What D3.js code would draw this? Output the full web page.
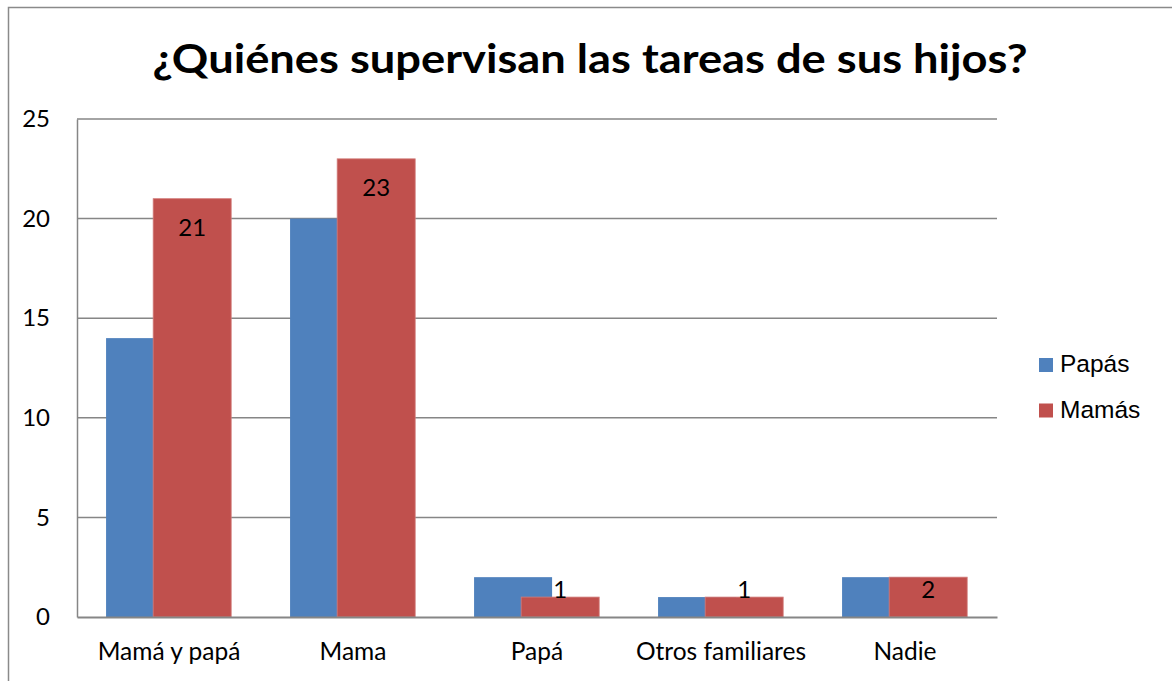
<!DOCTYPE html>
<html>
<head>
<meta charset="utf-8">
<script src="https://cdn.jsdelivr.net/npm/d3@7"></script>
<style>
  body { margin: 0; background: #fff; }
  text { font-family: Lato, "Open Sans", sans-serif; fill: #000; }
</style>
</head>
<body>
<div class="chart"></div>
<script>
var categories = ["Mamá y papá", "Mama", "Papá", "Otros familiares", "Nadie"];
var papas = [14, 20, 2, 1, 2];
var mamas = [21, 23, 1, 1, 2];
var seriesNames = ["Papás", "Mamás"];
var seriesColors = ["#4F81BD", "#C0504D"];
var yTicks = [0, 5, 10, 15, 20, 25];

var width = 1172, height = 681;
var plot = {left: 77, right: 997, top: 119, bottom: 617};

var svg = d3.select(".chart")
    .append("svg")
    .attr("width", width)
    .attr("height", height);

// chart border (runs off the right and bottom edge)
svg.append("rect")
    .attr("x", 8.5).attr("y", 7.5)
    .attr("width", width + 20).attr("height", height + 20)
    .style("fill", "none")
    .style("stroke", "#8a8a8a")
    .style("stroke-width", 1.5);

svg.append("text")
    .attr("x", 590)
    .attr("y", 73)
    .attr("text-anchor", "middle")
    .attr("textLength", 875)
    .attr("lengthAdjust", "spacingAndGlyphs")
    .style("font-size", "41px")
    .style("font-weight", "bold")
    .text("¿Quiénes supervisan las tareas de sus hijos?");

var x0 = d3.scaleBand()
    .domain(categories)
    .range([plot.left, plot.right]);

var y = d3.scaleLinear()
    .domain([0, 25])
    .range([plot.bottom, plot.top]);

// gridlines
svg.append("g")
    .selectAll("line")
    .data(yTicks.filter(function (d) { return d > 0; }))
    .enter()
    .append("line")
    .attr("x1", plot.left).attr("x2", plot.right)
    .attr("y1", function (d) { return y(d); })
    .attr("y2", function (d) { return y(d); })
    .style("stroke", "#868686")
    .style("stroke-width", 1.5);

// y axis
var yAxis = svg.append("g")
    .attr("transform", "translate(" + plot.left + ",0)")
    .call(d3.axisLeft(y).tickValues(yTicks).tickSize(0).tickPadding(27));
yAxis.select(".domain").style("stroke", "#868686").style("stroke-width", 1.5);
yAxis.selectAll("text")
    .style("font-family", "Lato, sans-serif")
    .style("font-size", "24px");

var bw = x0.bandwidth();
var barW = bw * 0.424;
var offsets = [bw * 0.158, bw * 0.414];
var series = [papas, mamas];

series.forEach(function (vals, s) {
    svg.append("g")
        .selectAll("rect")
        .data(vals)
        .enter()
        .append("rect")
        .attr("x", function (d, i) { return x0(categories[i]) + offsets[s]; })
        .attr("y", function (d) { return y(d); })
        .attr("width", barW)
        .attr("height", function (d) { return y(0) - y(d); })
        .style("fill", seriesColors[s])
        .style("stroke", s === 1 ? "#d27d7b" : "none")
        .style("stroke-width", 0.8);
});

// data labels on the Mamás bars
svg.append("g")
    .selectAll("text")
    .data(mamas)
    .enter()
    .append("text")
    .attr("x", function (d, i) { return x0(categories[i]) + offsets[1] + barW / 2; })
    .attr("y", function (d) { return Math.min(y(d) + 29, y(0) - 27); })
    .attr("dy", "0.35em")
    .attr("text-anchor", "middle")
    .style("font-size", "24px")
    .text(function (d) { return d; });

// x axis
var xAxis = svg.append("g")
    .attr("transform", "translate(0," + plot.bottom + ")")
    .call(d3.axisBottom(x0).tickSize(0).tickPadding(26));
xAxis.select(".domain").style("stroke", "#868686").style("stroke-width", 2);
xAxis.selectAll("text")
    .style("font-family", "Lato, sans-serif")
    .style("font-size", "24.5px");

// legend
var legend = svg.append("g")
    .selectAll("g")
    .data(seriesNames)
    .enter()
    .append("g")
    .attr("transform", function (d, i) { return "translate(1039," + (358 + i * 45.5) + ")"; });

legend.append("rect")
    .attr("width", 14).attr("height", 14)
    .style("fill", function (d, i) { return seriesColors[i]; });

legend.append("text")
    .attr("x", 21)
    .attr("y", 14)
    .style("font-family", "'Liberation Sans', Arial, sans-serif")
    .style("font-size", "24.5px")
    .text(function (d) { return d; });
</script>
</body>
</html>
